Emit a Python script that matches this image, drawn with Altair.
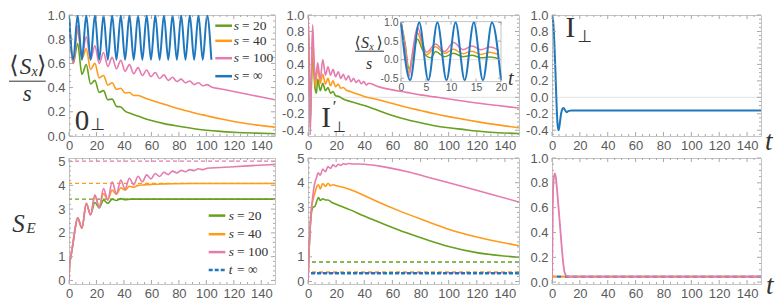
import altair as alt
import pandas as pd

# ===================== values =====================
X_TICKS = [0, 20, 40, 60, 80, 100, 120, 140]
X_MINOR = [5, 10, 15, 25, 30, 35, 45, 50, 55, 65, 70, 75, 85, 90, 95,
           105, 110, 115, 125, 130, 135, 145]
Y_TICKS_A = [0.0, 0.2, 0.4, 0.6, 0.8, 1.0]
Y_MINOR_A = [0.05, 0.1, 0.15, 0.25, 0.3, 0.35, 0.45, 0.5, 0.55, 0.65, 0.7,
             0.75, 0.85, 0.9, 0.95]
Y_TICKS_B = [-0.4, -0.2, 0.0, 0.2, 0.4, 0.6, 0.8, 1.0]
Y_MINOR_B = [-0.45, -0.35, -0.3, -0.25, -0.15, -0.1, -0.05, 0.05, 0.1, 0.15,
             0.25, 0.3, 0.35, 0.45, 0.5, 0.55, 0.65, 0.7, 0.75, 0.85, 0.9, 0.95]
Y_TICKS_C = [0, 1, 2, 3, 4, 5]
Y_MINOR_C = [0.2, 0.4, 0.6, 0.8, 1.2, 1.4, 1.6, 1.8, 2.2, 2.4, 2.6, 2.8,
             3.2, 3.4, 3.6, 3.8, 4.2, 4.4, 4.6, 4.8]
INSET_X_TICKS = [0, 5, 10, 15, 20]
INSET_Y_TICKS = [-0.5, 0.0, 0.5, 1.0]

T_DOMAIN = [0, 150]
DOM_SX_0 = [0.0, 1.0]
DOM_SX_I = [-0.47, 1.0]
DOM_SE_0 = [-0.15, 5.15]
DOM_SE_IP = [-0.1, 5.0]
DOM_SE_I = [-0.015, 1.0]
INSET_T_DOMAIN = [0, 20]
INSET_V_DOMAIN = [-0.59, 1.025]

LEGEND_TOP = [("s", "= 20"), ("s", "= 40"), ("s", "= 100"), ("s", "= \u221e")]
LEGEND_BOT = [("s", "= 20"), ("s", "= 40"), ("s", "= 100"), ("t", "= \u221e")]

# ---- panel 0_perp : <S_x>/s ----
T1_BLUE = [0, 3.14, 6.28, 9.42, 12.57, 15.71, 18.85, 21.99, 25.13, 28.27, 31.42,
           34.56, 37.70, 40.84, 43.98, 47.12, 50.27, 53.41, 56.55, 59.69, 62.83,
           65.97, 69.12, 72.26, 75.40, 78.54, 81.68, 84.82, 87.96, 91.11, 94.25,
           97.39, 100.53, 103.67]
V1_BLUE = [1.0, 0.63, 1.0, 0.63, 1.0, 0.63, 1.0, 0.63, 1.0, 0.63, 1.0, 0.63,
           1.0, 0.63, 1.0, 0.63, 1.0, 0.63, 1.0, 0.63, 1.0, 0.63, 1.0, 0.63,
           1.0, 0.63, 1.0, 0.63, 1.0, 0.63, 1.0, 0.63, 1.0, 0.63]
T1_GREEN = [0, 3.14, 6.28, 9.42, 12.57, 15.71, 18.85, 21.99, 25.13, 28.27, 31.42,
            34.56, 37.70, 40.84, 45, 50, 55, 60, 70, 80, 90, 100, 110, 120, 135, 150]
V1_GREEN = [1.0, 0.60, 0.765, 0.51, 0.59, 0.43, 0.46, 0.36, 0.375, 0.30, 0.305,
            0.245, 0.24, 0.205, 0.185, 0.165, 0.145, 0.128, 0.10, 0.08, 0.062,
            0.048, 0.038, 0.031, 0.024, 0.019]
T1_ORANGE = [0, 3.14, 6.28, 9.42, 12.57, 15.71, 18.85, 21.99, 25.13, 28.27, 31.42,
             34.56, 37.70, 40.84, 43.98, 47.12, 50.27, 56, 62, 70, 80, 90, 100,
             110, 120, 130, 140, 150]
V1_ORANGE = [1.0, 0.61, 0.875, 0.64, 0.72, 0.55, 0.60, 0.48, 0.50, 0.42, 0.44,
             0.385, 0.395, 0.355, 0.36, 0.335, 0.335, 0.31, 0.288, 0.26, 0.225,
             0.195, 0.168, 0.142, 0.12, 0.101, 0.086, 0.073]
T1_PINK = [0, 3.14, 6.28, 9.42, 12.57, 15.71, 18.85, 21.99, 25.13, 28.27, 31.42,
           34.56, 37.70, 40.84, 43.98, 47.12, 50.27, 53.41, 56.55, 59.69, 62.83,
           65.97, 69.12, 72.26, 75.40, 78.54, 81.68, 84.82, 87.96, 91.11, 94.25,
           97.39, 100.53, 103.67, 110, 120, 130, 140, 150]
V1_PINK = [1.0, 0.60, 0.91, 0.665, 0.82, 0.63, 0.745, 0.60, 0.69, 0.575, 0.65,
           0.555, 0.625, 0.535, 0.59, 0.515, 0.565, 0.50, 0.545, 0.49, 0.525,
           0.475, 0.505, 0.46, 0.485, 0.45, 0.47, 0.44, 0.455, 0.425, 0.44,
           0.415, 0.425, 0.405, 0.39, 0.368, 0.345, 0.322, 0.30]

# ---- panel I'_perp : <S_x>/s ----
T2_GREEN = [0, 0.8, 1.6, 2.4, 3.3, 4.2, 5.1, 6.0, 6.9, 8.7, 10.5, 12.4, 14.2,
            16.0, 17.8, 19.6, 22, 25, 30, 35, 40, 50, 60, 70, 80, 90, 100, 110,
            120, 135, 150]
V2_GREEN = [1.0, 0.45, -0.25, 0.15, 0.55, 0.30, 0.10, 0.05, 0.22, 0.08, 0.17,
            0.08, 0.12, 0.05, 0.07, 0.02, 0.01, -0.02, -0.05, -0.075, -0.10,
            -0.16, -0.22, -0.27, -0.31, -0.345, -0.37, -0.39, -0.41, -0.43, -0.44]
T2_ORANGE = [0, 0.8, 1.6, 2.4, 3.3, 4.2, 5.1, 6.9, 8.7, 10.5, 12.4, 14.2, 16.0,
             17.8, 19.6, 21.5, 23.3, 25.1, 26.9, 30, 35, 40, 50, 60, 70, 80, 90,
             100, 110, 120, 135, 150]
V2_ORANGE = [1.0, 0.40, -0.35, 0.20, 0.72, 0.40, 0.13, 0.35, 0.17, 0.28, 0.16,
             0.23, 0.14, 0.20, 0.13, 0.16, 0.11, 0.12, 0.09, 0.07, 0.04, 0.01,
             -0.03, -0.075, -0.12, -0.16, -0.20, -0.235, -0.265, -0.295, -0.335, -0.37]
T2_PINK = [0, 0.8, 1.6, 2.4, 3.3, 4.2, 5.1, 6.9, 8.7, 10.5, 12.4, 14.2, 16.0,
           17.8, 19.6, 21.5, 23.3, 25.1, 26.9, 28.8, 30.6, 32.4, 34.2, 36.0,
           37.9, 39.7, 41.5, 43.3, 50, 60, 70, 80, 90, 100, 110, 120, 135, 150]
V2_PINK = [1.0, 0.35, -0.45, 0.30, 0.88, 0.50, 0.20, 0.42, 0.22, 0.46, 0.27,
           0.37, 0.27, 0.34, 0.25, 0.31, 0.23, 0.28, 0.21, 0.26, 0.19, 0.23,
           0.18, 0.21, 0.165, 0.19, 0.15, 0.17, 0.13, 0.09, 0.06, 0.03, 0.005,
           -0.02, -0.045, -0.07, -0.10, -0.13]
T2_BLUE_INSET = [0, 1.82, 3.64, 5.46, 7.28, 9.10, 10.92, 12.74, 14.56, 16.38, 18.20, 20.0]
V2_BLUE_INSET = [1.0, -0.55, 1.0, -0.55, 1.0, -0.55, 1.0, -0.55, 1.0, -0.55, 1.0, -0.55]

# ---- panel I_perp : <S_x>/s ----
T3_BLUE = [0, 0.8, 1.6, 2.4, 3.2, 4.0, 4.7, 5.5, 6.5, 7.5, 8.3, 9.5, 10.5, 12, 14, 150]
V3_BLUE = [1.0, 0.93, 0.70, 0.35, -0.05, -0.33, -0.40, -0.33, -0.20, -0.14,
           -0.13, -0.16, -0.18, -0.165, -0.16, -0.16]

# ---- panel 0_perp : S_E ----
T4_PINK = [0, 0.4, 1.2, 2.5, 4.0, 6.28, 9.42, 12.57, 15.71, 18.85, 21.99, 25.13,
           28.27, 31.42, 34.56, 37.70, 40.84, 43.98, 47.12, 50.27, 53.41, 56.55,
           59.69, 62.83, 65.97, 69.12, 72.26, 75.40, 78.54, 81.68, 84.82, 87.96,
           91.11, 94.25, 97.39, 100.53, 110, 130, 150]
V4_PINK = [0, 0.65, 0.95, 1.4, 2.0, 2.63, 2.2, 3.24, 2.75, 3.6, 3.05, 3.86, 3.38,
           4.15, 3.65, 4.22, 3.85, 4.3, 4.02, 4.38, 4.15, 4.44, 4.27, 4.5, 4.37,
           4.55, 4.45, 4.6, 4.52, 4.63, 4.57, 4.66, 4.62, 4.7, 4.66, 4.72, 4.75,
           4.82, 4.88]
T4_ORANGE = [0, 0.4, 1.2, 2.5, 4.0, 6.28, 9.42, 12.57, 15.71, 18.85, 21.99, 25.13,
             28.27, 31.42, 34.56, 37.70, 40.84, 43.98, 47.12, 50.27, 55, 60, 70, 90, 150]
V4_ORANGE = [0, 0.65, 0.95, 1.4, 2.0, 2.63, 2.2, 3.24, 2.76, 3.55, 3.12, 3.65,
             3.4, 3.8, 3.62, 3.9, 3.8, 3.96, 3.92, 4.0, 4.02, 4.04, 4.06, 4.08, 4.08]
T4_GREEN = [0, 0.4, 1.2, 2.5, 4.0, 6.28, 9.42, 12.57, 15.71, 18.85, 21.99, 25.13,
            28.27, 31.42, 34.56, 37.70, 40.84, 45, 50, 150]
V4_GREEN = [0, 0.65, 0.95, 1.4, 2.0, 2.63, 2.2, 3.22, 2.78, 3.28, 3.05, 3.38,
            3.24, 3.42, 3.36, 3.44, 3.4, 3.42, 3.42, 3.42]
SE0_LIMITS = [3.42, 4.08, 5.02]          # s = 20, 40, 100 at t = inf

# ---- panel I'_perp : S_E ----
T5_PINK = [0, 0.7, 1.5, 2.5, 3.5, 4.5, 6.0, 7.3, 8.7, 10.5, 12.4, 14.2, 16.0, 17.8,
           19.6, 21.5, 23.3, 25.1, 27, 28.8, 32, 40, 50, 70, 90, 110, 130, 150]
V5_PINK = [0, 1.2, 2.2, 3.0, 3.5, 3.9, 4.2, 4.4, 4.3, 4.55, 4.45, 4.65, 4.58,
           4.72, 4.65, 4.75, 4.7, 4.77, 4.74, 4.78, 4.76, 4.75, 4.68, 4.45, 4.15,
           3.85, 3.53, 3.22]
T5_ORANGE = [0, 0.7, 1.5, 2.5, 3.5, 5.0, 6.3, 7.5, 8.7, 10.5, 12.4, 14.2, 16.0,
             17.8, 20, 25, 30, 40, 50, 64, 84, 100, 120, 150]
V5_ORANGE = [0, 1.2, 2.2, 2.95, 3.3, 3.6, 3.85, 3.92, 3.75, 3.97, 3.85, 3.98,
             3.88, 3.92, 3.88, 3.82, 3.72, 3.48, 3.22, 2.88, 2.45, 2.12, 1.8, 1.45]
T5_GREEN = [0, 0.7, 1.5, 2.5, 3.5, 5.0, 6.5, 7.5, 8.7, 10.5, 12.4, 14.2, 17, 20,
            30, 40, 55, 70, 85, 100, 120, 150]
V5_GREEN = [0, 1.2, 2.1, 2.8, 3.0, 3.05, 3.3, 3.4, 3.28, 3.35, 3.3, 3.3, 3.2,
            3.13, 2.9, 2.65, 2.3, 1.97, 1.68, 1.42, 1.17, 0.98]
SEIP_LIMITS = [0.79, 0.39, 0.36, 0.34]   # green, orange, pink, blue

# ---- panel I_perp : S_E ----
T6_PINK = [0, 0.5, 1.0, 1.9, 2.8, 3.8, 5.0, 6.0, 7.0, 8.0, 9.0, 10.5, 12, 150]
V6_PINK = [0, 0.55, 0.8, 0.875, 0.84, 0.72, 0.56, 0.42, 0.28, 0.16, 0.08, 0.05,
           0.045, 0.045]
SEI_LIMITS = [0.045, 0.045]              # orange, blue

# ===================== style =====================
GREEN = "#66A01E"
ORANGE = "#FF9A1A"
PINK = "#E57BAE"
BLUE = "#1F78BE"
FRAME = "#C4C4C4"
TICKC = "#A8A8A8"
ZEROC = "#E2E2E2"
LABELC = "#5A5A5A"
TEXTC = "#333333"
SERIF = "Liberation Serif"
SANS = "Liberation Sans"
SYM = "DejaVu Sans"

W1, W2, W3 = 206, 211, 209
H_TOP, H_BOT = 121, 126
INSET_L, INSET_R, INSET_T, INSET_B = 93, 193, 6.6, 66.6

ONE = pd.DataFrame({"k": [0]})


def txt(s, x, y, size, font=SERIF, style="normal", color=TEXTC, align="center"):
    return alt.Chart(ONE).mark_text(
        text=s, font=font, fontSize=size, fontStyle=style, color=color,
        align=align, baseline="middle"
    ).encode(x=alt.value(x), y=alt.value(y))


def seg(x1, x2, y, color, width=1.0, dash=None):
    kw = dict(color=color, strokeWidth=width)
    if dash:
        kw["strokeDash"] = dash
    return alt.Chart(ONE).mark_rule(**kw).encode(
        x=alt.value(x1), x2=alt.value(x2), y=alt.value(y))


def lbl_expr(dec):
    if dec == 0:
        return "format(datum.value, 'd')"
    return ("datum.value < 0 ? '-' + format(-datum.value, '.1f') : "
            "format(datum.value, '.1f')")


def legend(rows, colors, dashes, x_sym0, x_sym1, x_var, x_rest, ys, size=13.5):
    out = []
    for (var, rest), col, dsh, y in zip(rows, colors, dashes, ys):
        out.append(seg(x_sym0, x_sym1, y, col, 2.5, dsh))
        out.append(txt(var, x_var, y, size, style="italic", align="left"))
        out.append(txt(rest, x_rest, y, size, align="left"))
    return out


def panel(w, h, ydom, yt, ym, dec, curves, hlines=(), zero=False):
    X = alt.X("t:Q", scale=alt.Scale(domain=T_DOMAIN, nice=False, zero=False),
              axis=alt.Axis(values=X_TICKS, title=None,
                            labelExpr="format(datum.value, 'd')"))
    Y = alt.Y("v:Q", scale=alt.Scale(domain=ydom, nice=False, zero=False),
              axis=alt.Axis(values=yt, title=None, labelExpr=lbl_expr(dec)))
    layers = []
    if zero:
        layers.append(alt.Chart(pd.DataFrame({"v": [0.0]}))
                      .mark_rule(color=ZEROC, strokeWidth=1).encode(y=Y))
    for val, col, sw, dash, off in hlines:
        layers.append(alt.Chart(pd.DataFrame({"v": [val]}))
                      .mark_rule(color=col, strokeWidth=sw, strokeDash=dash,
                                 strokeDashOffset=off).encode(y=Y))
    for ts, vs, col, sw in curves:
        layers.append(alt.Chart(pd.DataFrame({"t": ts, "v": vs}))
                      .mark_line(color=col, strokeWidth=sw, interpolate="monotone",
                                 clip=True).encode(x=X, y=Y))
    for vals, ln in ((X_TICKS, 4), (X_MINOR, 2)):
        d = pd.DataFrame({"t": vals})
        layers.append(alt.Chart(d).mark_rule(color=TICKC).encode(
            x=X, y=alt.value(h), y2=alt.value(h - ln)))
        layers.append(alt.Chart(d).mark_rule(color=TICKC).encode(
            x=X, y=alt.value(0), y2=alt.value(ln)))
    for vals, ln in ((yt, 4), (ym, 2)):
        d = pd.DataFrame({"v": vals})
        layers.append(alt.Chart(d).mark_rule(color=TICKC).encode(
            y=Y, x=alt.value(0), x2=alt.value(ln)))
        layers.append(alt.Chart(d).mark_rule(color=TICKC).encode(
            y=Y, x=alt.value(w), x2=alt.value(w - ln)))
    return layers


# ---------------- top-left: 0_perp ----------------
L1 = panel(W1, H_TOP, DOM_SX_0, Y_TICKS_A, Y_MINOR_A, 1, [
    (T1_GREEN, V1_GREEN, GREEN, 1.6),
    (T1_ORANGE, V1_ORANGE, ORANGE, 1.6),
    (T1_PINK, V1_PINK, PINK, 1.6),
    (T1_BLUE, V1_BLUE, BLUE, 2.0),
])
L1 += [
    txt("\u27e8", -55, 51, 24, font=SYM),
    txt("S", -43.5, 51.5, 23, style="italic"),
    txt("x", -34.3, 56.5, 14, style="italic"),
    txt("\u27e9", -27.2, 51, 24, font=SYM),
    seg(-60, -23.3, 66.2, TEXTC, 1.0),
    txt("s", -41.8, 78.5, 23, style="italic"),
    txt("0", 13, 106.2, 29),
    txt("\u22a5", 28.8, 110.1, 17, font=SYM),
]
L1 += legend(LEGEND_TOP, [GREEN, ORANGE, PINK, BLUE], [None] * 4,
             146.3, 163, 164.7, 173, [10.7, 25.8, 43.2, 61.2])
p1t = alt.layer(*L1).properties(width=W1, height=H_TOP)

# ---------------- top-middle: I'_perp with inset ----------------
L2 = panel(W2, H_TOP, DOM_SX_I, Y_TICKS_B, Y_MINOR_B, 1, [
    (T2_GREEN, V2_GREEN, GREEN, 1.6),
    (T2_ORANGE, V2_ORANGE, ORANGE, 1.6),
    (T2_PINK, V2_PINK, PINK, 1.6),
], zero=True)

XI = alt.X("ti:Q", scale=alt.Scale(domain=INSET_T_DOMAIN, range=[INSET_L, INSET_R],
                                   nice=False, zero=False),
           axis=alt.Axis(values=INSET_X_TICKS, orient="bottom", offset=INSET_B - H_TOP,
                         title=None, labelFontSize=10.5, labelPadding=1,
                         labelExpr="format(datum.value, 'd')"))
YI = alt.Y("vi:Q", scale=alt.Scale(domain=INSET_V_DOMAIN, range=[INSET_B, INSET_T],
                                   nice=False, zero=False),
           axis=alt.Axis(values=INSET_Y_TICKS, orient="left", offset=-INSET_L,
                         title=None, labelFontSize=10.5, labelPadding=3,
                         labelExpr=lbl_expr(1)))


def inset_df(ts, vs):
    pts = [(t, v) for t, v in zip(ts, vs) if t <= INSET_T_DOMAIN[1]]
    return pd.DataFrame({"ti": [p[0] for p in pts], "vi": [p[1] for p in pts]})


I2 = [
    alt.Chart(pd.DataFrame({"ti": [INSET_T_DOMAIN[0]], "ti2": [INSET_T_DOMAIN[1]],
                            "vi": [INSET_V_DOMAIN[0]], "vi2": [INSET_V_DOMAIN[1]]}))
    .mark_rect(fill="white", stroke=FRAME, strokeWidth=1)
    .encode(x=XI, x2="ti2:Q", y=YI, y2="vi2:Q"),
    alt.Chart(pd.DataFrame({"ti": [INSET_T_DOMAIN[0]], "ti2": [INSET_T_DOMAIN[1]],
                            "vi": [0.0]}))
    .mark_rule(color=ZEROC).encode(x=XI, x2="ti2:Q", y=YI),
]
for ts, vs, col, sw in [(T2_GREEN, V2_GREEN, GREEN, 1.5),
                        (T2_ORANGE, V2_ORANGE, ORANGE, 1.5),
                        (T2_PINK, V2_PINK, PINK, 1.5),
                        (T2_BLUE_INSET, V2_BLUE_INSET, BLUE, 2.0)]:
    I2.append(alt.Chart(inset_df(ts, vs)).mark_line(
        color=col, strokeWidth=sw, interpolate="monotone").encode(x=XI, y=YI))
dx = pd.DataFrame({"ti": INSET_X_TICKS})
dy = pd.DataFrame({"vi": INSET_Y_TICKS})
I2 += [
    alt.Chart(dx).mark_rule(color=TICKC).encode(x=XI, y=alt.value(INSET_B), y2=alt.value(INSET_B - 3)),
    alt.Chart(dx).mark_rule(color=TICKC).encode(x=XI, y=alt.value(INSET_T), y2=alt.value(INSET_T + 3)),
    alt.Chart(dy).mark_rule(color=TICKC).encode(y=YI, x=alt.value(INSET_L), x2=alt.value(INSET_L + 3)),
    alt.Chart(dy).mark_rule(color=TICKC).encode(y=YI, x=alt.value(INSET_R), x2=alt.value(INSET_R - 3)),
    txt("\u27e8", 49.5, 28.2, 16, font=SYM),
    txt("S", 57, 28.2, 16, style="italic"),
    txt("x", 63.5, 31.5, 10, style="italic"),
    txt("\u27e9", 71.5, 28.2, 16, font=SYM),
    seg(47, 76, 36.2, TEXTC, 1.0),
    txt("s", 61, 48.7, 16, style="italic"),
    txt("t", 202.7, 64.1, 20, style="italic"),
    txt("I", 18.2, 102.5, 29),
    txt("\u2032", 26.5, 92, 17),
    txt("\u22a5", 31.2, 112, 15, font=SYM),
]
p2t = alt.layer(alt.layer(*L2), alt.layer(*I2)).resolve_scale(
    x="independent", y="independent").properties(width=W2, height=H_TOP)

# ---------------- top-right: I_perp ----------------
L3 = panel(W3, H_TOP, DOM_SX_I, Y_TICKS_B, Y_MINOR_B, 1, [
    (T3_BLUE, V3_BLUE, BLUE, 2.0),
], zero=True)
L3 += [
    txt("I", 18.3, 13.2, 29),
    txt("\u22a5", 33, 21.9, 17, font=SYM),
    txt("t", 216.7, 126.7, 27, style="italic"),
]
p3t = alt.layer(*L3).properties(width=W3, height=H_TOP)

# ---------------- bottom-left: S_E for 0_perp ----------------
L4 = panel(W1, H_BOT, DOM_SE_0, Y_TICKS_C, Y_MINOR_C, 0, [
    (T4_GREEN, V4_GREEN, GREEN, 1.6),
    (T4_ORANGE, V4_ORANGE, ORANGE, 1.6),
    (T4_PINK, V4_PINK, PINK, 1.6),
], hlines=[(SE0_LIMITS[0], GREEN, 1.3, [4, 3], 0),
           (SE0_LIMITS[1], ORANGE, 1.3, [4, 3], 0),
           (SE0_LIMITS[2], PINK, 1.3, [4, 3], 0)])
L4 += [
    txt("S", -50.5, 66.4, 25, style="italic"),
    txt("E", -38, 70.3, 15, style="italic"),
]
L4 += legend(LEGEND_BOT, [GREEN, ORANGE, PINK, BLUE], [None, None, None, [4, 2]],
             139.7, 156.3, 159.7, 168, [57.6, 76.2, 94.1, 112])
p1b = alt.layer(*L4).properties(width=W1, height=H_BOT)

# ---------------- bottom-middle: S_E for I'_perp ----------------
L5 = panel(W2, H_BOT, DOM_SE_IP, Y_TICKS_C, Y_MINOR_C, 0, [
    (T5_GREEN, V5_GREEN, GREEN, 1.6),
    (T5_ORANGE, V5_ORANGE, ORANGE, 1.6),
    (T5_PINK, V5_PINK, PINK, 1.6),
], hlines=[(SEIP_LIMITS[0], GREEN, 1.5, [4, 3], 0),
           (SEIP_LIMITS[1], ORANGE, 1.5, [4, 3], 0),
           (SEIP_LIMITS[2], PINK, 1.5, [4, 3], 0),
           (SEIP_LIMITS[3], BLUE, 2.5, [4, 2], 0)])
p2b = alt.layer(*L5).properties(width=W2, height=H_BOT)

# ---------------- bottom-right: S_E for I_perp ----------------
L6 = panel(W3, H_BOT, DOM_SE_I, Y_TICKS_A, Y_MINOR_A, 1, [
    (T6_PINK, V6_PINK, PINK, 1.8),
], hlines=[(SEI_LIMITS[0], ORANGE, 2.2, [4, 4], 4),
           (SEI_LIMITS[1], BLUE, 2.2, [4, 4], 0)])
L6 += [txt("t", 217.8, 127.5, 27, style="italic")]
p3b = alt.layer(*L6).properties(width=W3, height=H_BOT)

chart = alt.concat(
    p1t, p2t, p3t, p1b, p2b, p3b,
    columns=3, spacing={"row": 22, "column": 33}, bounds="flush", align="each",
).properties(
    padding={"left": 0, "top": 0, "right": 0, "bottom": 0}
).configure_view(
    stroke=FRAME, strokeWidth=1
).configure_axis(
    labelFont=SANS, labelFontSize=13, labelColor=LABELC, ticks=False,
    domain=False, grid=False, labelFlush=False, labelOverlap=False,
    labelPadding=4,
).configure_axisX(labelPadding=3)

chart.save("out.html", embed_options={"renderer": "svg", "actions": False})
